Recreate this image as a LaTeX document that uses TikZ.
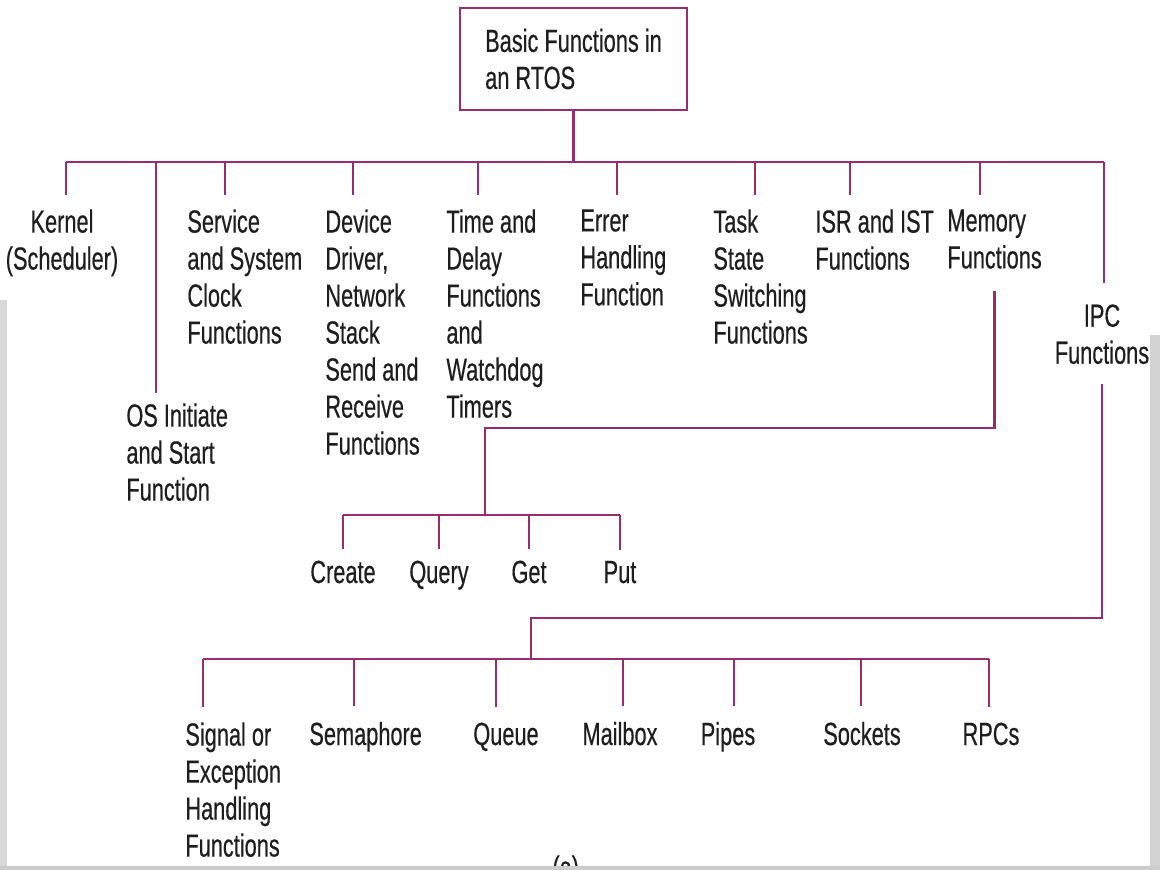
\documentclass[tikz,border=0pt]{standalone}
\usepackage{fontspec}
\setmainfont[FakeStretch=0.68,FakeBold=0.4]{Liberation Sans}
\definecolor{wirepink}{RGB}{150,45,110}
\definecolor{inkgray}{RGB}{30,30,30}
\tikzset{
  wire/.style={draw=wirepink, line width=1.1pt},
  lbl/.style={inner sep=0pt, align=left, anchor=north west, text=inkgray,
    font=\fontsize{16pt}{18.5pt}\selectfont},
}
\begin{document}
\begin{tikzpicture}[x=0.5pt,y=-0.5pt]
\useasboundingbox (0,0) rectangle (1160,870);
% scan edges
\fill[gray!30] (0,300) rectangle (7,870);
\fill[gray!35] (1150,335) rectangle (1160,870);

% root box
\node[wire, lbl, anchor=center, minimum width=113.5pt, minimum height=51pt]
  (root) at (573.5,59) {Basic Functions in\\an RTOS};
\coordinate (busL) at (66,162);
\coordinate (busR) at (1104,162);
\draw[wire] (root.south) -- (root.south |- busL);
\draw[wire] (busL) -- (busR);

% first level
\node[lbl, align=center, anchor=north] (kernel) at (62,209) {Kernel\\(Scheduler)};
\node[lbl] (osinit) at (126,403) {OS Initiate\\and Start\\Function};
\node[lbl] (clock) at (187,209) {Service\\and System\\Clock\\Functions};
\node[lbl] (driver) at (325,209) {Device\\Driver,\\Network\\Stack\\Send and\\Receive\\Functions};
\node[lbl] (timer) at (446,209) {Time and\\Delay\\Functions\\and\\Watchdog\\Timers};
\node[lbl] (error) at (580,209) {Errer\\Handling\\Function};
\node[lbl] (taskstate) at (713,209) {Task\\State\\Switching\\Functions};
\node[lbl] (isr) at (815,209) {ISR and IST\\Functions};
\node[lbl] (memory) at (947,209) {Memory\\Functions};
\node[lbl, align=center, anchor=north] (ipc) at (1102,304) {IPC\\Functions};

\foreach \x/\n in {66/kernel,225/clock,353/driver,478/timer,617/error,755/taskstate,850/isr,980/memory}
  \draw[wire, shorten >=7pt] (\x,162) -- (\x,162 |- \n.north);
\draw[wire, shorten >=5pt] (156,162) -- (156,162 |- osinit.north);
\draw[wire, shorten >=10.5pt] (1104,162) -- (1104,162 |- ipc.north);

% memory functions
\coordinate (memknee) at (485,428);
\coordinate (mbus) at (485,515);
\draw[wire, shorten <=11pt] (memory.south) |- (memknee) -- (mbus);
\node[lbl, anchor=base] (create) at (343,583) {Create};
\node[lbl, anchor=base] (query) at (439,583) {Query};
\node[lbl, anchor=base] (get) at (529,583) {Get};
\node[lbl, anchor=base] (put) at (620,583) {Put};
\draw[wire] (create.north |- mbus) -- (put.north |- mbus);
\foreach \n in {create,query,get,put}
  \draw[wire, shorten >=5.5pt] (\n.north |- mbus) -- (\n.north);

% IPC functions
\coordinate (ipcknee) at (531,618);
\coordinate (ibus) at (531,659);
\draw[wire, shorten <=10pt] (ipc.south) |- (ipcknee) -- (ibus);
\node[lbl] (signal) at (185,722) {Signal or\\Exception\\Handling\\Functions};
\node[lbl, anchor=base west] (semaphore) at (309,745) {Semaphore};
\node[lbl, anchor=base] (queue) at (506,745) {Queue};
\node[lbl, anchor=base] (mailbox) at (620,745) {Mailbox};
\node[lbl, anchor=base] (pipes) at (728,745) {Pipes};
\node[lbl, anchor=base] (sockets) at (862,745) {Sockets};
\node[lbl, anchor=base] (rpcs) at (991,745) {RPCs};
\draw[wire] (203,659) -- (989,659);
\foreach \x/\n in {203/signal,354/semaphore,496/queue,623/mailbox,734/pipes,861/sockets,989/rpcs}
  \draw[wire, shorten >=7.5pt] (\x,659) -- (\x,659 |- \n.north);

\node[lbl, anchor=north west] (caption) at (552,855) {(a)};
\fill[gray!40] (0,866) rectangle (1160,870);
\end{tikzpicture}
\end{document}
